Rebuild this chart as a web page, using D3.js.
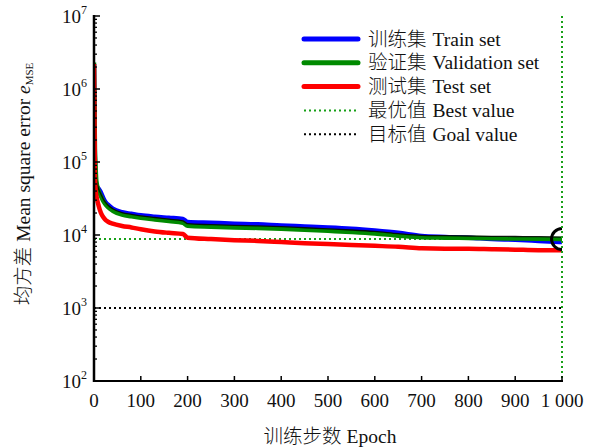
<!DOCTYPE html>
<html>
<head>
<meta charset="utf-8">
<script src="https://cdn.jsdelivr.net/npm/d3@7"></script>
<style>
  html, body { margin: 0; padding: 0; background: #fff; }
  svg { display: block; }
  text { font-family: "Liberation Serif", "Times New Roman", serif; fill: #111; }
  .cjk { font-family: "Noto Sans CJK SC", sans-serif; font-weight: 300; }
</style>
</head>
<body>
<svg id="chart" width="591" height="448"></svg>
<script>
// Training epochs at which the errors are sampled
const epochs = [0, 2, 3, 5, 10, 15, 20, 25, 30, 40, 60, 80, 100, 130, 160, 190, 200,
  250, 300, 350, 400, 450, 500, 550, 600, 650, 700, 750, 800, 850, 900, 950, 1000];

// Mean square error per data set
const trainMSE = [2.2e6, 8e4, 5.5e4, 4.8e4, 4.3e4, 3.8e4, 3.2e4, 2.8e4, 2.6e4, 2.3e4, 2.05e4, 1.95e4,
  1.86e4, 1.78e4, 1.72e4, 1.66e4, 1.51e4, 1.47e4, 1.43e4, 1.40e4, 1.35e4, 1.31e4, 1.27e4, 1.22e4,
  1.15e4, 1.07e4, 9.7e3, 9.4e3, 9.2e3, 8.8e3, 8.6e3, 8.3e3, 8.0e3];
const validationMSE = [2.3e6, 1.5e5, 1.0e5, 5.5e4, 4.0e4, 3.4e4, 2.9e4, 2.6e4, 2.4e4, 2.15e4, 1.9e4,
  1.8e4, 1.72e4, 1.63e4, 1.55e4, 1.47e4, 1.34e4, 1.30e4, 1.27e4, 1.25e4, 1.22e4, 1.18e4, 1.14e4,
  1.10e4, 1.05e4, 9.8e3, 9.3e3, 9.2e3, 9.1e3, 9.0e3, 8.95e3, 8.9e3, 8.8e3];
const testMSE = [2.2e6, 6e4, 4.5e4, 3.5e4, 2.5e4, 2.0e4, 1.75e4, 1.6e4, 1.52e4, 1.43e4, 1.33e4, 1.27e4,
  1.2e4, 1.12e4, 1.07e4, 1.03e4, 9.2e3, 8.8e3, 8.5e3, 8.3e3, 8.0e3, 7.7e3, 7.5e3, 7.3e3, 7.1e3,
  6.9e3, 6.6e3, 6.5e3, 6.5e3, 6.4e3, 6.3e3, 6.2e3, 6.2e3];

// Best validation performance and training goal
const bestEpoch = 1000;
const bestValue = 8.8e3;
const goalValue = 1e3;

// Axis ticks
const xTicks = [0, 100, 200, 300, 400, 500, 600, 700, 800, 900, 1000];
const xTickLabels = ["0", "100", "200", "300", "400", "500", "600", "700", "800", "900", "1 000"];
const yExponents = [2, 3, 4, 5, 6, 7];

// Legend entries
const legendLabels = ["训练集 Train set", "验证集 Validation set", "测试集 Test set", "最优值 Best value", "目标值 Goal value"];

const svg = d3.select("#chart");
const plotLeft = 94, plotRight = 562, plotTop = 16, plotBottom = 381;
const latinSize = 19.5, cjkSize = 19.5;

const x = d3.scaleLinear().domain([0, 1000]).range([plotLeft, plotRight]);
const y = d3.scaleLog().domain([1e2, 1e7]).range([plotBottom, plotTop]);

svg.append("defs").append("clipPath").attr("id", "plotClip")
  .append("rect").attr("x", plotLeft).attr("y", plotTop - 2)
  .attr("width", plotRight - plotLeft).attr("height", plotBottom - plotTop + 2);

const plot = svg.append("g").attr("clip-path", "url(#plotClip)");

// Goal line
plot.append("line")
  .attr("x1", x(0)).attr("x2", x(1000)).attr("y1", y(goalValue)).attr("y2", y(goalValue))
  .attr("stroke", "#000").attr("stroke-width", 2).attr("stroke-dasharray", "2,3");

// Best value guides
plot.append("line")
  .attr("x1", x(0)).attr("x2", x(1000)).attr("y1", y(bestValue)).attr("y2", y(bestValue))
  .attr("stroke", "#17a017").attr("stroke-width", 2).attr("stroke-dasharray", "2,3");
svg.append("line")
  .attr("x1", x(bestEpoch)).attr("x2", x(bestEpoch)).attr("y1", y(1e7)).attr("y2", y(1e2))
  .attr("stroke", "#17a017").attr("stroke-width", 2).attr("stroke-dasharray", "2,3");

const line = d3.line().x((d, i) => x(epochs[i])).y(d => y(d)).curve(d3.curveMonotoneX);

const series = [
  { values: trainMSE, color: "#0000ff" },
  { values: validationMSE, color: "#008a00" },
  { values: testMSE, color: "#ff0000" }
];

series.forEach((s, k) => {
  plot.append("path").datum(s.values)
    .attr("d", line)
    .attr("fill", "none")
    .attr("stroke", s.color)
    .attr("stroke-width", 4.5)
    .attr("stroke-linejoin", "round");
  if (k === 1) {
    // dark edge along the validation curve
    plot.append("path").datum(s.values)
      .attr("d", line)
      .attr("transform", "translate(0,-2)")
      .attr("fill", "none")
      .attr("stroke", "#000")
      .attr("stroke-opacity", 0.85)
      .attr("stroke-width", 1.3);
  }
});

// Best point marker
plot.append("circle")
  .attr("cx", x(bestEpoch)).attr("cy", y(bestValue)).attr("r", 10.5)
  .attr("fill", "none").attr("stroke", "#000").attr("stroke-width", 3);

// X axis
const xAxis = svg.append("g");
xAxis.append("line").attr("x1", plotLeft - 1).attr("x2", plotRight + 1).attr("y1", plotBottom).attr("y2", plotBottom)
  .attr("stroke", "#000").attr("stroke-width", 2);
xAxis.selectAll(".xt").data(xTicks).enter().append("line")
  .attr("x1", d => x(d)).attr("x2", d => x(d)).attr("y1", plotBottom).attr("y2", plotBottom - 5)
  .attr("stroke", "#000").attr("stroke-width", 1.5);
xAxis.selectAll(".xl").data(xTicks).enter().append("text")
  .attr("x", d => x(d)).attr("y", 407)
  .attr("text-anchor", "middle").attr("font-size", 19)
  .text((d, i) => xTickLabels[i]);

// Y axis
const yAxis = svg.append("g");
yAxis.append("line").attr("x1", plotLeft).attr("x2", plotLeft).attr("y1", plotTop - 1).attr("y2", plotBottom + 1)
  .attr("stroke", "#000").attr("stroke-width", 2.5);
const minor = [];
for (let e = 2; e < 7; e++) for (let m = 2; m <= 9; m++) minor.push(m * Math.pow(10, e));
yAxis.selectAll(".ym").data(minor).enter().append("line")
  .attr("x1", plotLeft).attr("x2", plotLeft + 3).attr("y1", d => y(d)).attr("y2", d => y(d))
  .attr("stroke", "#000").attr("stroke-width", 1.3);
yAxis.selectAll(".yt").data(yExponents).enter().append("line")
  .attr("x1", plotLeft).attr("x2", plotLeft + 6)
  .attr("y1", d => y(Math.pow(10, d))).attr("y2", d => y(Math.pow(10, d)))
  .attr("stroke", "#000").attr("stroke-width", 1.5);
const yl = yAxis.selectAll(".yl").data(yExponents).enter().append("text")
  .attr("x", 87).attr("y", d => y(Math.pow(10, d)) + 7)
  .attr("text-anchor", "end")
  .attr("font-size", 19);
yl.append("tspan").text("10");
yl.append("tspan").attr("dy", -9).attr("font-size", 12).text(d => d);

// Axis titles
svg.append("text")
  .attr("x", 330).attr("y", 443).attr("text-anchor", "middle").attr("font-size", latinSize)
  .call(t => {
    t.append("tspan").attr("class", "cjk").attr("font-size", cjkSize).text("训练步数");
    t.append("tspan").attr("dx", 5).text("Epoch");
  });

svg.append("text")
  .attr("transform", "translate(30,184) rotate(-90)")
  .attr("text-anchor", "middle").attr("font-size", latinSize)
  .call(t => {
    t.append("tspan").attr("class", "cjk").attr("font-size", cjkSize).text("均方差");
    t.append("tspan").attr("dx", 5).text("Mean square error ");
    t.append("tspan").attr("font-style", "italic").text("e");
    t.append("tspan").attr("font-size", 11).attr("dy", 3).text("MSE");
  });

// Legend
const legendStyles = [
  { color: "#0000ff", width: 5, dash: null },
  { color: "#008a00", width: 5, dash: null },
  { color: "#ff0000", width: 5, dash: null },
  { color: "#17a017", width: 2, dash: "2,3" },
  { color: "#000", width: 2, dash: "2,3" }
];
const legend = svg.append("g");
legendLabels.forEach((label, i) => {
  const yy = 39 + i * 23.8;
  const st = legendStyles[i];
  legend.append("line")
    .attr("x1", 304).attr("x2", 358).attr("y1", yy).attr("y2", yy)
    .attr("stroke", st.color).attr("stroke-width", st.width)
    .attr("stroke-linecap", st.dash ? "butt" : "round")
    .attr("stroke-dasharray", st.dash);
  const parts = label.split(" ");
  const t = legend.append("text").attr("x", 368).attr("y", yy + 6.5).attr("font-size", latinSize);
  t.append("tspan").attr("class", "cjk").attr("font-size", cjkSize).text(parts[0]);
  t.append("tspan").attr("dx", 6).text(parts.slice(1).join(" "));
});
</script>
</body>
</html>
